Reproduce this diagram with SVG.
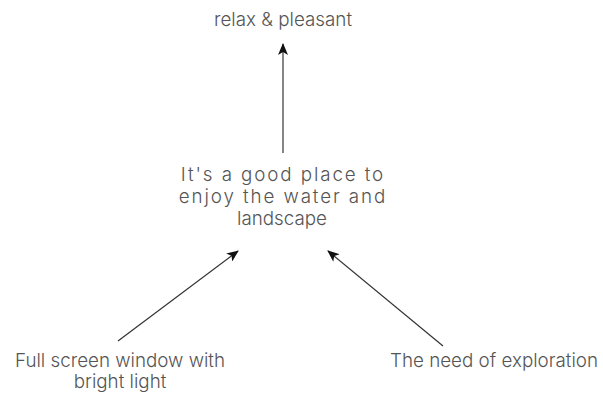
<svg xmlns="http://www.w3.org/2000/svg" width="603" height="398" viewBox="0 0 603 398">
<style>
text{font-family:Inter,Roboto,"Liberation Sans",sans-serif;font-weight:300;fill:#555;font-size:18.8px;text-anchor:middle}
.sp{letter-spacing:1.9px}
.c{stroke:#333;stroke-width:1.2;fill:none;marker-end:url(#ah)}
</style>
<defs>
<marker id="ah" viewBox="0 0 12 10" refX="11" refY="5" markerWidth="12" markerHeight="10" markerUnits="userSpaceOnUse" orient="auto">
<path d="M0,0 L12,5 L0,10 L3,5 Z" fill="#111"/>
</marker>
</defs>
<rect width="603" height="398" fill="#fff"/>
<g id="connectors">
<line class="c" x1="283" y1="153" x2="283" y2="44"/>
<line class="c" x1="118" y1="341" x2="238" y2="251"/>
<line class="c" x1="443" y1="346" x2="328" y2="251"/>
</g>
<g id="n-relax"><text x="283" y="26">relax &amp; pleasant</text></g>
<g id="n-place"><text class="sp" x="283" y="181">It's a good place to</text><text class="sp" x="283" y="203">enjoy the water and</text><text x="282" y="225">landscape</text></g>
<g id="n-window"><text x="120" y="367">Full screen window with</text><text x="120" y="388">bright light</text></g>
<g id="n-explore"><text x="494" y="367">The need of exploration</text></g>
</svg>
